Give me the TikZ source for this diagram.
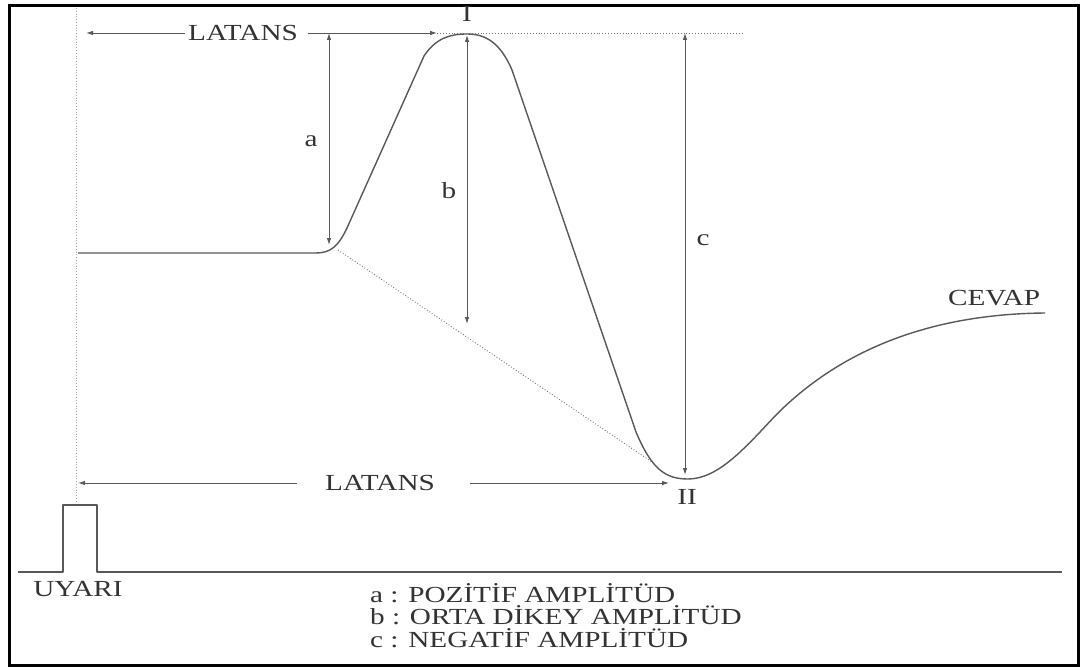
\documentclass[tikz,border=0pt]{standalone}
\usepackage{fontspec}
\setmainfont[FakeStretch=1.27]{Liberation Serif}
\usetikzlibrary{arrows.meta}
\begin{document}
\begin{tikzpicture}[x=1pt,y=-1pt,
 lbl/.style={font=\fontsize{23}{27}\selectfont, text=black!80, inner sep=0pt},
 tip/.style={-{Latex[length=7pt,width=4.5pt]}},
 arr/.style={draw=black!65, line width=0.9pt, tip},
 dim/.style={draw=black!65, line width=0.9pt, {Latex[length=7pt,width=4.5pt]}-{Latex[length=7pt,width=4.5pt]}},
 wave/.style={draw=black!65, line width=1.4pt, line join=round},
 dots/.style={draw=black!55, line width=0.9pt, dotted},
 fine/.style={draw=black!35, line width=0.8pt, dotted},
 frame/.style={draw=black, line width=2.6pt},
]
\useasboundingbox (0,0) rectangle (1083,671);
\fill[white] (0,0) rectangle (1083,671);
\draw[frame] (9.5,5.5) rectangle (1078.5,665.5);

% coordinates
\coordinate (start) at (78,253);
\coordinate (onset) at (338,250);
\coordinate (peak) at (467,34);
\coordinate (trough) at (688,479);
\coordinate (cevapEnd) at (1045,313);
\coordinate (meet) at (652,462);

% stimulus vertical dotted line
\coordinate (vTop) at (76,8);
\coordinate (vBot) at (76,502);
\draw[fine] (vTop) -- (vBot);

% waveform
\draw[wave] (start) -- (316,253) .. controls (330,253) and (338,247) .. (347,228)
  -- (424,56) .. controls (436,38) and (450,34) .. (peak)
  .. controls (485,34) and (500,42) .. (512,70)
  -- (636,432) .. controls (652,470) and (666,479) .. (trough)
  .. controls (718,479) and (745,448) .. (775,416)
  .. controls (840,350) and (930,314) .. (cevapEnd);

% dotted lines
\draw[dots] (onset) -- (meet);
\coordinate (lvlEnd) at (743,33);
\coordinate (lvlStart) at (437,33);
\draw[dots] (lvlStart) -- (lvlEnd);

% top latency
\node[lbl] (latTop) at (243,33) {LATANS};
\coordinate (ltL) at (86,33);
\coordinate (ltLs) at (185,33);
\coordinate (ltRs) at (308,33);
\draw[arr] (ltLs) -- (ltL);
\draw[arr] (ltRs) -- (lvlStart);

% bottom latency
\node[lbl] (latBot) at (380,483) {LATANS};
\coordinate (lbL) at (78,483);
\coordinate (lbLs) at (297,483);
\coordinate (lbRs) at (470,483);
\coordinate (lbR) at (669,483);
\draw[arr] (lbLs) -- (lbL);
\draw[arr] (lbRs) -- (lbR);

% amplitude arrows
\coordinate (aTop) at (329,33);
\coordinate (aBot) at (329,245);
\draw[dim] (aTop) -- (aBot);
\node[lbl] (la) at (311,141) {a};
\coordinate (bTop) at (467,35);
\coordinate (bBot) at (467,324);
\draw[dim] (bTop) -- (bBot);
\node[lbl] (lb) at (449,191) {b};
\coordinate (cTop) at (685,33);
\coordinate (cBot) at (685,475);
\draw[dim] (cTop) -- (cBot);
\node[lbl] (lc) at (703,240) {c};

% labels
\node[lbl] (lI) at (467,14) {I};
\node[lbl] (lII) at (687,497) {II};
\node[lbl] (cevap) at (994,298) {CEVAP};

% stimulus
\draw[wave, line width=1.1pt] (18,572) -- (63,572) -- (63,505) -- (97,505) -- (97,572) -- (1062,572);
\node[lbl] (uyari) at (78,589) {UYARI};

% legend
\node[lbl, anchor=west] (lg1) at (370,593) {a : POZİTİF AMPLİTÜD};
\node[lbl, anchor=west] (lg2) at (370,615) {b : ORTA DİKEY AMPLİTÜD};
\node[lbl, anchor=west] (lg3) at (370,638) {c : NEGATİF AMPLİTÜD};
\end{tikzpicture}
\end{document}
